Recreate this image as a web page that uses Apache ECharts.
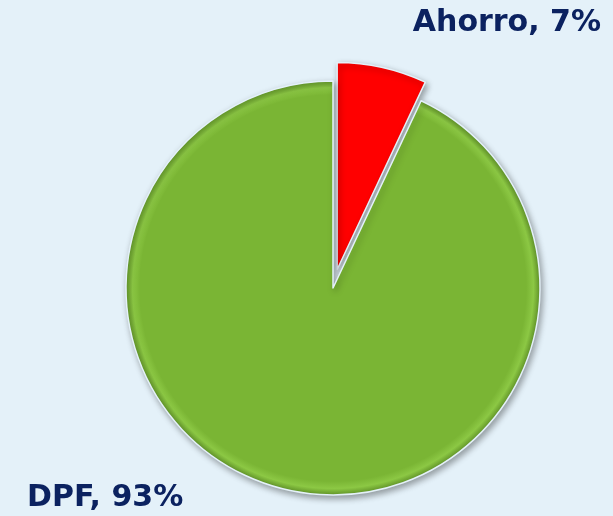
<!DOCTYPE html>
<html>
<head>
<meta charset="utf-8">
<script src="https://cdn.jsdelivr.net/npm/echarts@6/dist/echarts.min.js"></script>
<style>
html,body{margin:0;padding:0;background:#E4F1F9;}
#c{width:613px;height:516px;}
</style>
</head>
<body>
<div id="c"></div>
<script>
const categories = ['Ahorro', 'DPF'];
const values = [7, 93];
const colors = ['#FF0000', '#7AB534'];
const labelPos = [[601, 23, 'right'], [27, 498, 'left']];

const chart = echarts.init(document.getElementById('c'));
chart.setOption({
  backgroundColor: '#E4F1F9',
  animation: false,
  graphic: categories.map((c, i) => ({
    type: 'text',
    x: labelPos[i][0],
    y: labelPos[i][1],
    style: {
      text: c + ', ' + values[i] + '%',
      align: labelPos[i][2],
      verticalAlign: 'middle',
      fontFamily: 'DejaVu Sans, Verdana, sans-serif',
      fontWeight: 'bold',
      fontSize: 30,
      fill: '#0B2260'
    },
    z: 10
  })),
  series: [{
    type: 'pie',
    center: [333, 288],
    radius: [0, 207],
    startAngle: 90,
    clockwise: true,
    selectedMode: 'single',
    selectedOffset: 19,
    data: categories.map((c, i) => ({
      name: c,
      value: values[i],
      selected: i === 0,
      itemStyle: {
        color: i === 1 ? {
          type: 'radial', x: 0.5, y: 0.5, r: 0.5,
          colorStops: [
            { offset: 0, color: '#7AB534' },
            { offset: 0.93, color: '#7AB534' },
            { offset: 0.965, color: '#8CC844' },
            { offset: 1, color: '#5F9227' }
          ]
        } : colors[i],
        borderColor: '#E4F1F9',
        borderWidth: 1.5,
        shadowBlur: 6,
        shadowColor: 'rgba(0,0,0,0.35)',
        shadowOffsetX: 2,
        shadowOffsetY: 3
      }
    })),
    label: { show: false },
    labelLine: { show: false },
    emphasis: { disabled: true }
  }]
});
</script>
</body>
</html>
